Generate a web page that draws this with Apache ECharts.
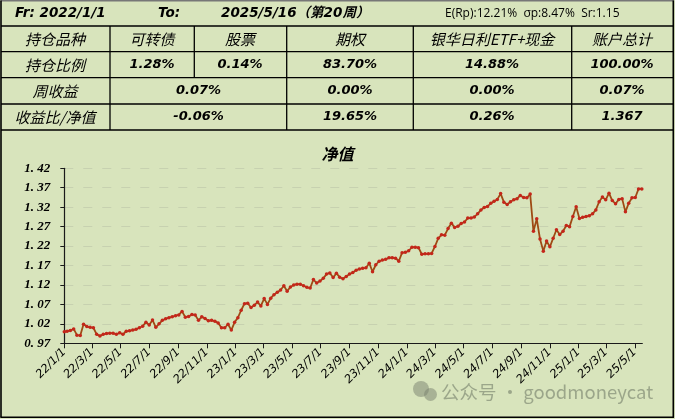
<!DOCTYPE html>
<html><head><meta charset="utf-8">
<script src="https://cdn.jsdelivr.net/npm/echarts@6/dist/echarts.min.js"></script>
<style>html,body{margin:0;padding:0;background:#d8e4bc}#c{width:675px;height:419px}</style>
</head><body><div id="c"></div>
<script>
// ---- data ----
const startDate = [2022, 1, 1];     // initial NAV date
const firstWeekEnd = [2022, 1, 7];  // first weekly Friday
const navValues = [
  1.000,
  1.001,1.003,1.007,0.991,0.990,1.019,1.013,1.011,1.010,0.993,
  0.989,0.993,0.995,0.996,0.996,0.993,0.997,0.993,1.001,1.002,
  1.004,1.006,1.010,1.014,1.024,1.017,1.030,1.011,1.020,1.029,
  1.033,1.036,1.038,1.041,1.043,1.052,1.037,1.039,1.044,1.043,
  1.029,1.038,1.034,1.028,1.029,1.027,1.022,1.010,1.010,1.019,
  1.004,1.024,1.036,1.055,1.072,1.073,1.062,1.068,1.076,1.066,
  1.085,1.070,1.086,1.095,1.101,1.107,1.118,1.104,1.115,1.120,
  1.122,1.122,1.118,1.114,1.112,1.134,1.125,1.130,1.137,1.148,
  1.151,1.139,1.150,1.140,1.136,1.142,1.148,1.152,1.158,1.161,
  1.163,1.164,1.176,1.154,1.172,1.181,1.184,1.186,1.190,1.190,
  1.189,1.181,1.203,1.204,1.208,1.217,1.217,1.216,1.199,1.200,
  1.200,1.201,1.219,1.240,1.249,1.248,1.265,1.279,1.268,1.271,
  1.278,1.282,1.292,1.292,1.295,1.303,1.313,1.319,1.322,1.330,
  1.335,1.340,1.355,1.333,1.327,1.334,1.339,1.342,1.350,1.345,
  1.344,1.354,1.258,1.290,1.238,1.207,1.233,1.218,1.240,1.262,
  1.250,1.258,1.273,1.270,1.296,1.321,1.291,1.294,1.296,1.298,
  1.303,1.313,1.334,1.346,1.339,1.356,1.337,1.329,1.340,1.342,
  1.308,1.330,1.344,1.345,1.367,1.367
];
const yTickLabels = ['0.97','1.02','1.07','1.12','1.17','1.22','1.27','1.32','1.37','1.42'];
const xTickLabels = ['22/1/1','22/3/1','22/5/1','22/7/1','22/9/1','22/11/1','23/1/1','23/3/1','23/5/1','23/7/1','23/9/1','23/11/1','24/1/1','24/3/1','24/5/1','24/7/1','24/9/1','24/11/1','25/1/1','25/3/1','25/5/1'];
const headerRow = ['Fr: 2022/1/1', 'To:', '2025/5/16（第20周）', 'E(Rp):12.21%  σp:8.47%  Sr:1.15'];
const colHeaders = ['持仓品种','可转债','股票','期权','银华日利ETF+现金','账户总计'];
const weightRow = ['持仓比例','1.28%','0.14%','83.70%','14.88%','100.00%'];
const weeklyRow = ['周收益','0.07%','0.00%','0.00%','0.07%'];
const ratioRow = ['收益比/净值','-0.06%','19.65%','0.26%','1.367'];
const chartTitle = '净值';
const watermark = '公众号 · goodmoneycat';

// ---- build ----
const DAY = 86400000;
const t0 = Date.UTC(startDate[0], startDate[1]-1, startDate[2]);
const tf = Date.UTC(firstWeekEnd[0], firstWeekEnd[1]-1, firstWeekEnd[2]);
const seriesData = navValues.map((v, i) => [i === 0 ? t0 : tf + (i-1)*7*DAY, v]);
const xTickVals = xTickLabels.map(s => { const p = s.split('/').map(Number); return Date.UTC(2000+p[0], p[1]-1, p[2]); });
const xLabelMap = {}; xTickVals.forEach((v,i)=>{ xLabelMap[v] = xTickLabels[i]; });
const yTickVals = yTickLabels.map(Number);

const CJK = '"Noto Sans CJK SC"';
const NUM = '"DejaVu Sans","Noto Sans CJK SC"';
const g = [];
function txt(t, x, y, font, align, fill) {
  g.push({type:'text', silent:true, style:{text:t, x:x, y:y, font:font, fill:fill||'#000',
    align: align||'center', textAlign: align||'center', verticalAlign:'middle', textVerticalAlign:'middle'}, z:10});
}
function ln(x1,y1,x2,y2,w,c) {
  g.push({type:'line', silent:true, shape:{x1,y1,x2,y2}, style:{stroke:c||'#000', lineWidth:w||1.3}, z:10});
}
// table lines
const hy = [26, 51.7, 77.7, 104, 130];
hy.forEach(y => ln(1, y, 673, y));
[110, 194.3, 286.7, 413.3, 571.7].forEach(x => ln(x, 26, x, 77.7));
[110, 286.7, 413.3, 571.7].forEach(x => ln(x, 77.7, x, 130));
// outer border
ln(0.5, 0.8, 674, 0.8, 1.5, '#777');
ln(1, 0.5, 1, 417.5, 1.6);
ln(673.3, 0.5, 673.3, 417.5, 1.6);
ln(0.5, 417.3, 674, 417.3, 1.6);
// header row
txt(headerRow[0], 15, 13.5, 'italic bold 13.5px '+NUM, 'left');
txt(headerRow[1], 158, 13.5, 'italic bold 13.5px '+NUM, 'left');
txt(headerRow[2], 221, 13.5, 'italic bold 13.5px '+NUM, 'left');
txt(headerRow[3], 445, 14, '12px "Open Sans"', 'left');
const cx6 = [55, 152, 240, 350, 492, 622];
const cx5 = [55, 198.5, 350, 492, 622];
colHeaders.forEach((t,i)=> txt(t, cx6[i], 39.5, 'italic 15px '+CJK));
weightRow.forEach((t,i)=> txt(t, cx6[i], 65, i===0 ? 'italic 15px '+CJK : 'italic bold 13px '+NUM));
weeklyRow.forEach((t,i)=> txt(t, cx5[i], 91, i===0 ? 'italic 15px '+CJK : 'italic bold 13px '+NUM));
ratioRow.forEach((t,i)=> txt(t, cx5[i], 117, i===0 ? 'italic 15px '+CJK : 'italic bold 13px '+NUM));
// watermark
g.push({type:'circle', silent:true, shape:{cx:421, cy:389, r:8}, style:{fill:'rgba(120,128,110,0.5)'}, z:10});
g.push({type:'circle', silent:true, shape:{cx:430.5, cy:394.5, r:6.5}, style:{fill:'rgba(120,128,110,0.5)'}, z:10});
txt(watermark, 441, 392, '18.5px '+CJK, 'left', 'rgba(115,125,105,0.6)');

const chart = echarts.init(document.getElementById('c'), null, {renderer:'canvas'});
chart.setOption({
  backgroundColor: '#d8e4bc',
  animation: false,
  title: {text: chartTitle, left: 'center', top: 141,
    textStyle:{fontFamily: CJK, fontSize:16, fontWeight:'bold', fontStyle:'italic', color:'#000'}},
  grid: {left: 64.3, right: 32.7, top: 168.3, bottom: 75.7, containLabel:false},
  xAxis: {
    type:'value', min: t0, max: Date.UTC(2025,4,17),
    axisLine:{show:true, lineStyle:{color:'#1a1a1a', width:1.2}},
    axisTick:{show:true, length:5, customValues: xTickVals, lineStyle:{color:'#1a1a1a'}},
    axisLabel:{customValues: xTickVals, rotate:45, margin:7, color:'#000',
      fontFamily:'"DejaVu Sans"', fontStyle:'italic', fontSize:11.5,
      formatter: v => xLabelMap[v] || ''},
    splitLine:{show:false}
  },
  yAxis: {
    type:'value', min:0.97, max:1.42,
    axisLine:{show:true, lineStyle:{color:'#1a1a1a', width:1.2}},
    axisTick:{show:true, inside:false, length:4, customValues: yTickVals, lineStyle:{color:'#1a1a1a'}},
    axisLabel:{customValues: yTickVals, margin:14, color:'#000',
      fontFamily:'"Liberation Serif"', fontStyle:'italic', fontWeight:'bold', fontSize:13,
      formatter: v => v.toFixed(2).replace('.', '. ')},
    splitLine:{show:true, lineStyle:{color:'#c7d1b0', type:[9,10], width:1}}
  },
  series: [{
    type:'line', data: seriesData, symbol:'circle', symbolSize:3.5, showSymbol:true,
    lineStyle:{color:'#9e4a14', width:1.8},
    itemStyle:{color:'#c4261a'}
  }],
  graphic: g
});
</script></body></html>
